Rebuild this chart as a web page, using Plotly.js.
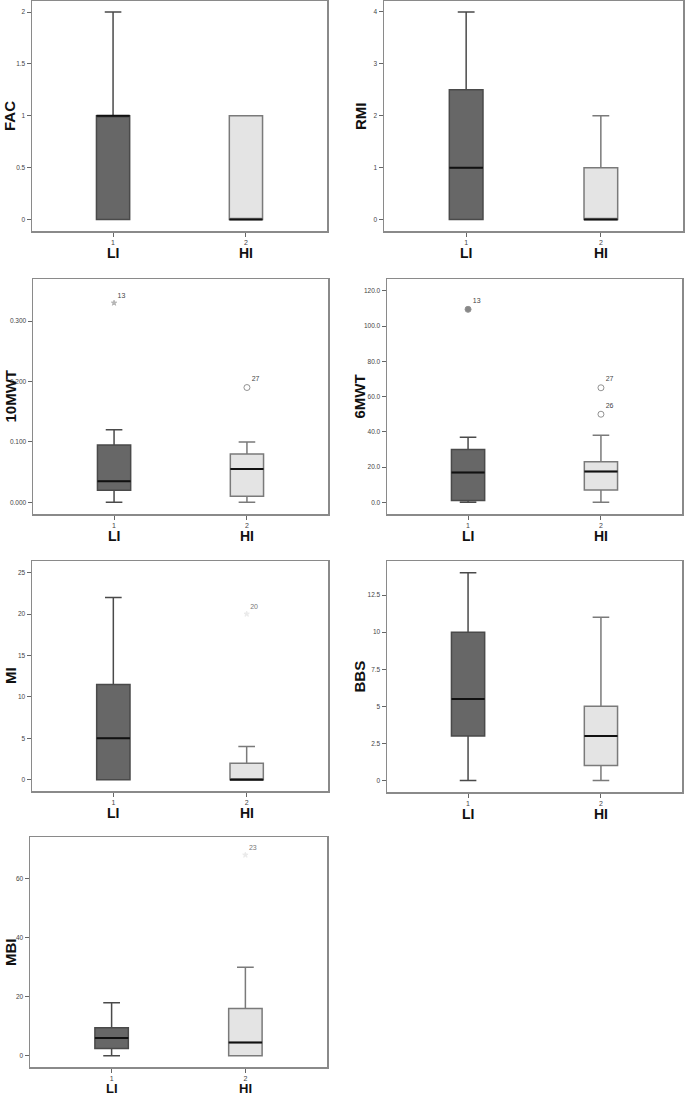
<!DOCTYPE html>
<html>
<head>
<meta charset="utf-8">
<script src="https://cdn.plot.ly/plotly-3.0.1.min.js"></script>
<style>
html,body{margin:0;padding:0;background:#fff;}
#chart{width:685px;height:1097px;}
</style>
</head>
<body>
<div id="chart"></div>
<script>
// ---- data ----
const groups = ['LI', 'HI'];
const groupCodes = [1, 2];
const measures = ['FAC', 'RMI', '10MWT', '6MWT', 'MI', 'BBS', 'MBI'];

// box statistics: [lower whisker, Q1, median, Q3, upper whisker]
const FAC_LI = [0, 0, 1, 1, 2];
const FAC_HI = [0, 0, 0, 1, 1];
const RMI_LI = [0, 0, 1, 2.5, 4];
const RMI_HI = [0, 0, 0, 1, 2];
const MWT10_LI = [0, 0.02, 0.035, 0.095, 0.12];
const MWT10_HI = [0, 0.01, 0.055, 0.08, 0.10];
const MWT6_LI = [0, 1, 17, 30, 37];
const MWT6_HI = [0, 7, 17.5, 23, 38];
const MI_LI = [0, 0, 5, 11.5, 22];
const MI_HI = [0, 0, 0, 2, 4];
const BBS_LI = [0, 3, 5.5, 10, 14];
const BBS_HI = [0, 1, 3, 5, 11];
const MBI_LI = [0, 2.5, 6, 9.5, 18];
const MBI_HI = [0, 0, 4.5, 16, 30];

// outliers: group code, value, case id, kind ('o' outlier, '*' extreme)
const MWT10_outGroup = [1, 2];
const MWT10_outValue = [0.33, 0.19];
const MWT10_outId = ['13', '27'];
const MWT10_outKind = ['*', 'o'];

const MWT6_outGroup = [1, 2, 2];
const MWT6_outValue = [109.5, 65, 50];
const MWT6_outId = ['13', '27', '26'];
const MWT6_outKind = ['o', 'o', 'o'];

const MI_outGroup = [2];
const MI_outValue = [20];
const MI_outId = ['20'];
const MI_outKind = ['*'];

const MBI_outGroup = [2];
const MBI_outValue = [68];
const MBI_outId = ['23'];
const MBI_outKind = ['*'];

// y tick values
const FAC_ticks = [0, 0.5, 1, 1.5, 2];
const RMI_ticks = [0, 1, 2, 3, 4];
const MWT10_ticks = [0, 0.1, 0.2, 0.3];
const MWT6_ticks = [0, 20, 40, 60, 80, 100, 120];
const MI_ticks = [0, 5, 10, 15, 20, 25];
const BBS_ticks = [0, 2.5, 5, 7.5, 10, 12.5];
const MBI_ticks = [0, 20, 40, 60];

// ---- layout geometry (pixels) ----
const W = 685, H = 1097;
const panels = [
  {name: measures[0], stats: [FAC_LI, FAC_HI], out: null, ticks: FAC_ticks, fmt: '', x0: 32, x1: 327, y0: 1, y1: 231, range: [-0.11, 2.106], tx: 10, gy: -22, gs: 14},
  {name: measures[1], stats: [RMI_LI, RMI_HI], out: null, ticks: RMI_ticks, fmt: '', x0: 384, x1: 683, y0: 1, y1: 231, range: [-0.22, 4.21], tx: 361, gy: -22, gs: 14},
  {name: measures[2], stats: [MWT10_LI, MWT10_HI], out: [MWT10_outGroup, MWT10_outValue, MWT10_outId, MWT10_outKind], ticks: MWT10_ticks, fmt: '.3f', x0: 33, x1: 328, y0: 279, y1: 514, range: [-0.0194, 0.3697], tx: 10, gy: -22, gs: 14},
  {name: measures[3], stats: [MWT6_LI, MWT6_HI], out: [MWT6_outGroup, MWT6_outValue, MWT6_outId, MWT6_outKind], ticks: MWT6_ticks, fmt: '.1f', x0: 387, x1: 682, y0: 279, y1: 514, range: [-6.6, 126.7], tx: 359, gy: -22, gs: 14},
  {name: measures[4], stats: [MI_LI, MI_HI], out: [MI_outGroup, MI_outValue, MI_outId, MI_outKind], ticks: MI_ticks, fmt: '', x0: 32, x1: 328, y0: 561, y1: 791, range: [-1.36, 26.4], tx: 10, light: true, gy: -22, gs: 14},
  {name: measures[5], stats: [BBS_LI, BBS_HI], out: null, ticks: BBS_ticks, fmt: '', x0: 387, x1: 682, y0: 561, y1: 792, range: [-0.78, 14.8], tx: 359, gy: -22, gs: 14},
  {name: measures[6], stats: [MBI_LI, MBI_HI], out: [MBI_outGroup, MBI_outValue, MBI_outId, MBI_outKind], ticks: MBI_ticks, fmt: '', x0: 30, x1: 327, y0: 837, y1: 1067, range: [-3.8, 74.1], tx: 10, light: true, gy: -21, gs: 13}
];

const fillColors = ['#676767', '#e4e4e4'];
const edgeColors = ['#4a4a4a', '#7a7a7a'];
const FONT = 'Liberation Sans, Arial, sans-serif';

const traces = [];
const layout = {
  width: W, height: H,
  margin: {l: 0, r: 0, t: 0, b: 0},
  paper_bgcolor: '#ffffff',
  plot_bgcolor: '#ffffff',
  showlegend: false,
  boxmode: 'overlay',
  font: {family: FONT, color: '#333'},
  annotations: []
};

panels.forEach((p, i) => {
  const n = i + 1;
  const xa = 'x' + (n === 1 ? '' : n);
  const ya = 'y' + (n === 1 ? '' : n);
  const xKey = 'xaxis' + (n === 1 ? '' : n);
  const yKey = 'yaxis' + (n === 1 ? '' : n);

  p.stats.forEach((s, g) => {
    traces.push({
      type: 'box', xaxis: xa, yaxis: ya,
      x: [groupCodes[g]],
      lowerfence: [s[0]], q1: [s[1]], median: [s[2]], q3: [s[3]], upperfence: [s[4]],
      width: 0.25, whiskerwidth: 0.5,
      fillcolor: fillColors[g],
      line: {color: edgeColors[g], width: 1.5},
      boxpoints: false, hoverinfo: 'skip'
    });
    // darker median line drawn on top
    traces.push({
      type: 'box', xaxis: xa, yaxis: ya,
      x: [groupCodes[g]],
      lowerfence: [s[2]], q1: [s[2]], median: [s[2]], q3: [s[2]], upperfence: [s[2]],
      width: 0.25, whiskerwidth: 0,
      fillcolor: 'rgba(0,0,0,0)',
      line: {color: '#111111', width: 2},
      boxpoints: false, hoverinfo: 'skip'
    });
  });

  if (p.out) {
    const [og, ov, oid, ok] = p.out;
    traces.push({
      type: 'scatter', mode: 'markers+text', xaxis: xa, yaxis: ya,
      x: og, y: ov, text: oid,
      textposition: 'top right',
      textfont: {family: FONT, size: 7, color: p.light ? '#777' : '#444'},
      marker: {
        symbol: ok.map((k, j) => k === '*' ? 'star' : (og[j] === 1 ? 'circle' : 'circle-open')),
        size: ok.map(k => k === '*' ? 4 : 6),
        color: ok.map((k, j) => k === '*' ? (p.light ? '#e2e2e2' : '#999999') : (og[j] === 1 ? '#555555' : '#666666')),
        line: {width: 1, color: ok.map((k, j) => k === '*' ? (p.light ? '#e2e2e2' : '#999999') : '#666666')}
      },
      cliponaxis: false, hoverinfo: 'skip'
    });
  }

  layout[xKey] = {
    domain: [p.x0 / W, p.x1 / W],
    anchor: ya,
    range: [0.39, 2.61],
    tickmode: 'array', tickvals: groupCodes, ticktext: groupCodes.map(String),
    ticks: 'outside', ticklen: 4, tickwidth: 1, tickcolor: '#666',
    tickfont: {family: FONT, size: 7, color: '#444'},
    showline: true, mirror: true, linecolor: '#8a8a8a', linewidth: 1.5,
    showgrid: false, zeroline: false, fixedrange: true
  };
  layout[yKey] = {
    domain: [1 - p.y1 / H, 1 - p.y0 / H],
    anchor: xa,
    range: p.range,
    tickmode: 'array', tickvals: p.ticks,
    tickformat: p.fmt,
    ticks: 'outside', ticklen: 4, tickwidth: 1, tickcolor: '#666',
    tickfont: {family: FONT, size: 6.5, color: '#444'},
    showline: true, mirror: true, linecolor: '#8a8a8a', linewidth: 1.5,
    showgrid: false, zeroline: false, fixedrange: true
  };

  // y-axis title
  layout.annotations.push({
    xref: 'paper', yref: ya + ' domain',
    x: p.tx / W, y: 0.5, xanchor: 'center', yanchor: 'middle',
    text: '<b>' + p.name + '</b>', textangle: -90, showarrow: false,
    font: {family: FONT, size: 15, color: '#111'}
  });
  // group labels
  groups.forEach((gname, g) => {
    layout.annotations.push({
      xref: xa, yref: ya + ' domain',
      x: groupCodes[g], y: 0, yshift: p.gy,
      xanchor: 'center', yanchor: 'middle',
      text: '<b>' + gname + '</b>', showarrow: false,
      font: {family: FONT, size: p.gs, color: '#111'}
    });
  });
});

Plotly.newPlot('chart', traces, layout, {displayModeBar: false, staticPlot: true});
</script>
</body>
</html>
